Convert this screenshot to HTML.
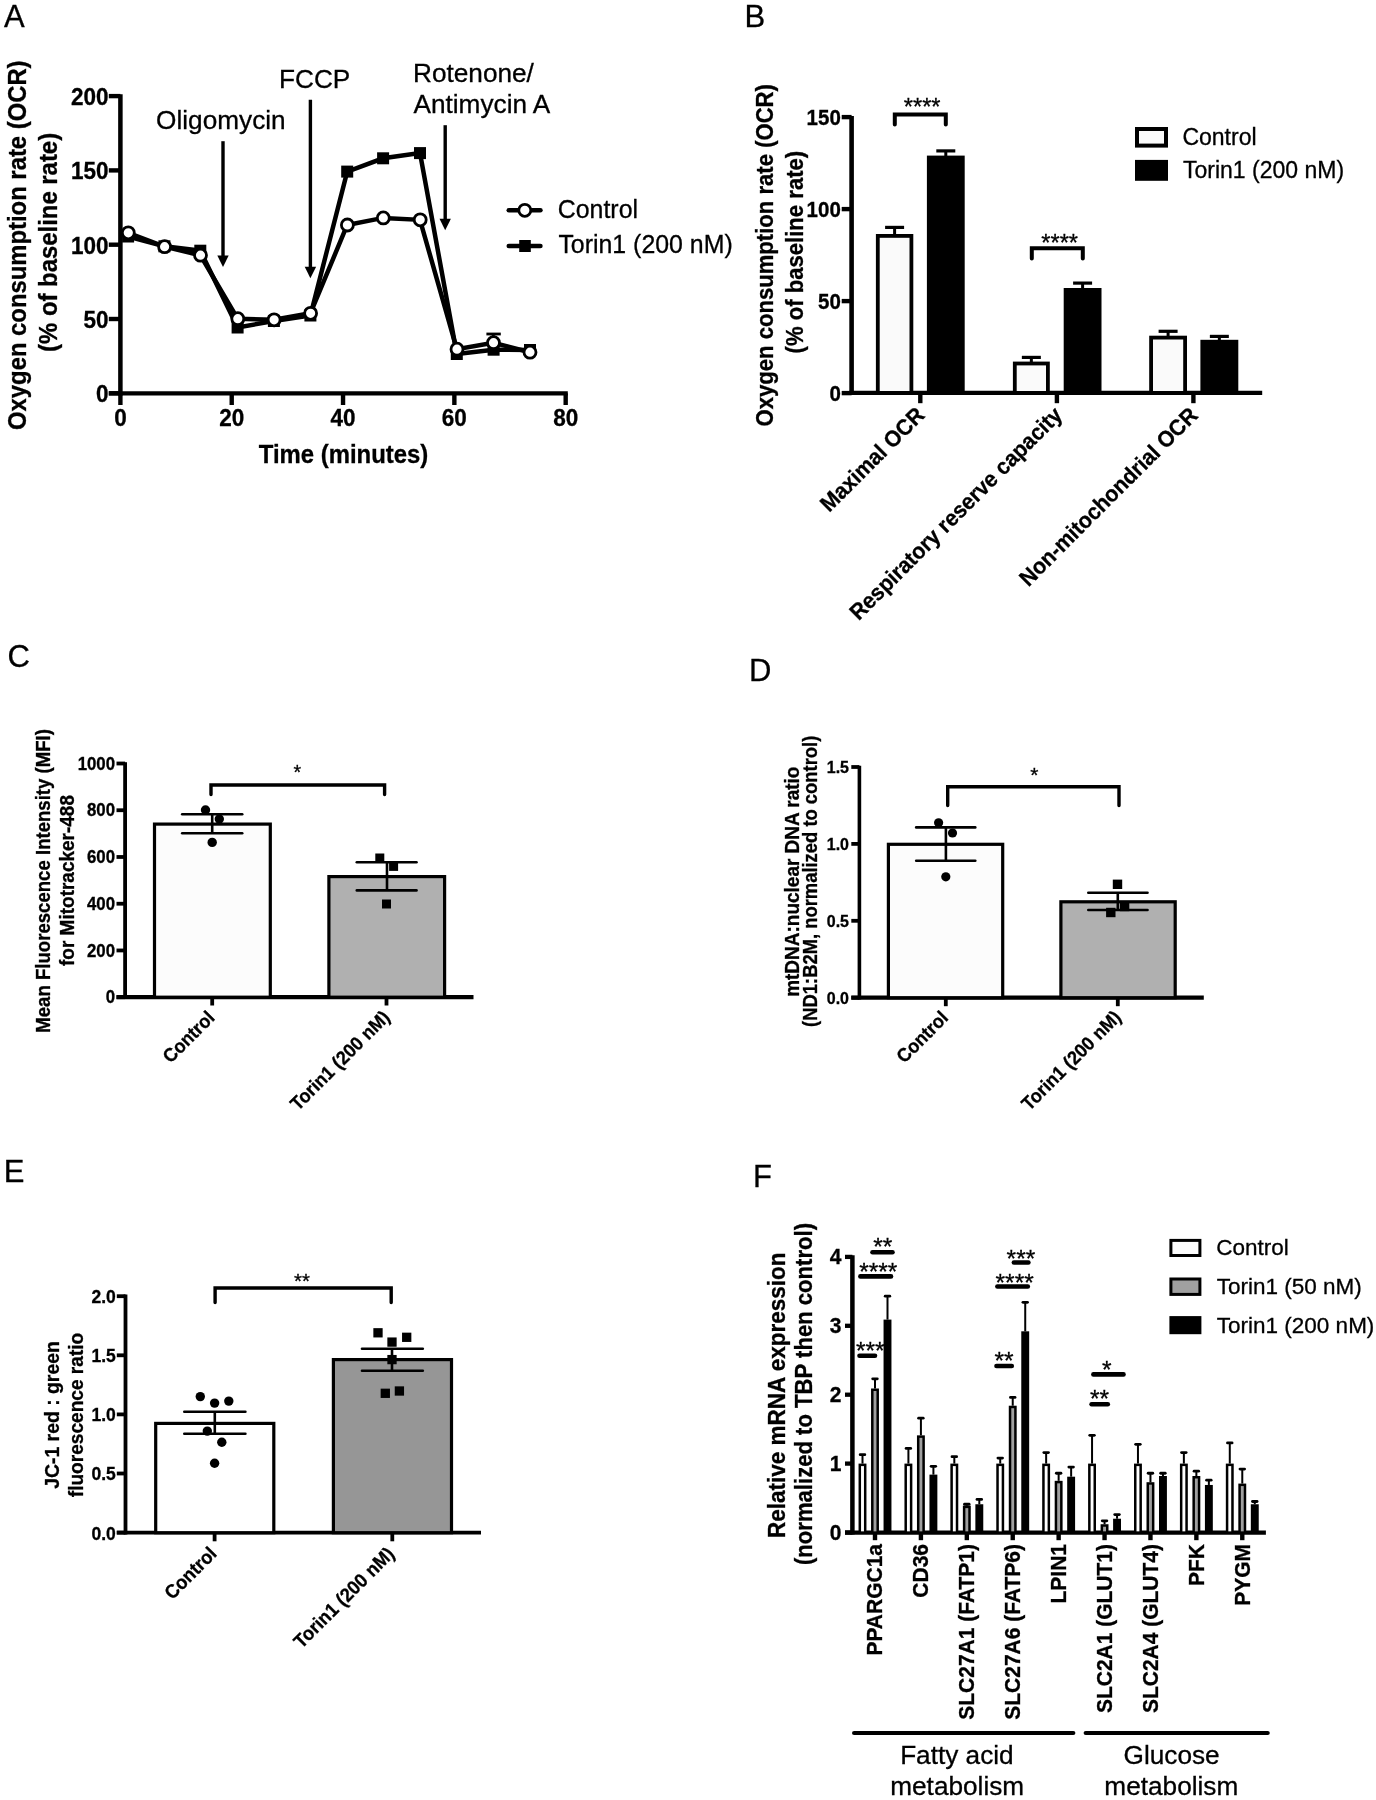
<!DOCTYPE html>
<html><head><meta charset="utf-8"><style>
html,body{margin:0;padding:0;background:#fff;}
svg{display:block;filter:grayscale(1);}
text{font-family:"Liberation Sans",sans-serif;fill:#000;stroke:#000;stroke-width:0.3px;}
</style></head><body>
<svg width="1376" height="1800" viewBox="0 0 1376 1800">
<rect width="1376" height="1800" fill="#fff"/>
<text x="4" y="27.3" font-size="31" text-anchor="start">A</text>
<text x="744.5" y="27.3" font-size="31" text-anchor="start">B</text>
<text x="7.5" y="666.6" font-size="31" text-anchor="start">C</text>
<text x="749" y="681" font-size="31" text-anchor="start">D</text>
<text x="3.8" y="1182.1" font-size="31" text-anchor="start">E</text>
<text x="753" y="1187" font-size="31" text-anchor="start">F</text>
<line x1="120.4" y1="94.2" x2="120.4" y2="395.5" stroke="#000" stroke-width="4.5" stroke-linecap="butt"/>
<line x1="108.8" y1="393.3" x2="120.4" y2="393.3" stroke="#000" stroke-width="4.4" stroke-linecap="butt"/>
<text x="0" y="0" font-size="22.5" font-weight="bold" text-anchor="end" transform="translate(108.6 402.1) scale(1 1.06)">0</text>
<line x1="108.8" y1="319.0" x2="120.4" y2="319.0" stroke="#000" stroke-width="4.4" stroke-linecap="butt"/>
<text x="0" y="0" font-size="22.5" font-weight="bold" text-anchor="end" transform="translate(108.6 327.8) scale(1 1.06)">50</text>
<line x1="108.8" y1="244.70000000000002" x2="120.4" y2="244.70000000000002" stroke="#000" stroke-width="4.4" stroke-linecap="butt"/>
<text x="0" y="0" font-size="22.5" font-weight="bold" text-anchor="end" transform="translate(108.6 253.50000000000003) scale(1 1.06)">100</text>
<line x1="108.8" y1="170.4" x2="120.4" y2="170.4" stroke="#000" stroke-width="4.4" stroke-linecap="butt"/>
<text x="0" y="0" font-size="22.5" font-weight="bold" text-anchor="end" transform="translate(108.6 179.20000000000002) scale(1 1.06)">150</text>
<line x1="108.8" y1="96.10000000000002" x2="120.4" y2="96.10000000000002" stroke="#000" stroke-width="4.4" stroke-linecap="butt"/>
<text x="0" y="0" font-size="22.5" font-weight="bold" text-anchor="end" transform="translate(108.6 104.90000000000002) scale(1 1.06)">200</text>
<line x1="108.8" y1="393.3" x2="567.8" y2="393.3" stroke="#000" stroke-width="4.3" stroke-linecap="butt"/>
<line x1="120.4" y1="393.3" x2="120.4" y2="405" stroke="#000" stroke-width="4.4" stroke-linecap="butt"/>
<text x="0" y="0" font-size="22.5" font-weight="bold" text-anchor="middle" transform="translate(120.4 426) scale(1 1.06)">0</text>
<line x1="231.72" y1="393.3" x2="231.72" y2="405" stroke="#000" stroke-width="4.4" stroke-linecap="butt"/>
<text x="0" y="0" font-size="22.5" font-weight="bold" text-anchor="middle" transform="translate(231.72 426) scale(1 1.06)">20</text>
<line x1="343.03999999999996" y1="393.3" x2="343.03999999999996" y2="405" stroke="#000" stroke-width="4.4" stroke-linecap="butt"/>
<text x="0" y="0" font-size="22.5" font-weight="bold" text-anchor="middle" transform="translate(343.03999999999996 426) scale(1 1.06)">40</text>
<line x1="454.36" y1="393.3" x2="454.36" y2="405" stroke="#000" stroke-width="4.4" stroke-linecap="butt"/>
<text x="0" y="0" font-size="22.5" font-weight="bold" text-anchor="middle" transform="translate(454.36 426) scale(1 1.06)">60</text>
<line x1="565.68" y1="393.3" x2="565.68" y2="405" stroke="#000" stroke-width="4.4" stroke-linecap="butt"/>
<text x="0" y="0" font-size="22.5" font-weight="bold" text-anchor="middle" transform="translate(565.68 426) scale(1 1.06)">80</text>
<text x="0" y="0" font-size="23.9" font-weight="bold" text-anchor="middle" transform="translate(343.5 463.1) scale(1 1.06)">Time (minutes)</text>
<text x="0" y="0" font-size="23.85" font-weight="bold" text-anchor="middle" transform="translate(25.8 245.2) rotate(-90) scale(1 1.06)">Oxygen consumption rate (OCR)</text>
<text x="0" y="0" font-size="23.9" font-weight="bold" text-anchor="middle" transform="translate(56.5 242.4) rotate(-90) scale(1 1.06)">(% of baseline rate)</text>
<text x="156.1" y="129" font-size="26.2" text-anchor="start">Oligomycin</text>
<text x="279" y="88.2" font-size="26.2" text-anchor="start">FCCP</text>
<text x="413" y="81.6" font-size="26.2" text-anchor="start">Rotenone/</text>
<text x="413.5" y="113.2" font-size="26.2" text-anchor="start">Antimycin A</text>
<line x1="223" y1="141.2" x2="223" y2="259" stroke="#000" stroke-width="3.4" stroke-linecap="butt"/>
<polygon points="217.30,255.40 228.70,255.40 223.00,267.00" fill="#000"/>
<line x1="310.4" y1="99.7" x2="310.4" y2="270.3" stroke="#000" stroke-width="3.4" stroke-linecap="butt"/>
<polygon points="304.70,266.70 316.10,266.70 310.40,278.30" fill="#000"/>
<line x1="445.2" y1="125.2" x2="445.2" y2="222.3" stroke="#000" stroke-width="3.4" stroke-linecap="butt"/>
<polygon points="439.50,218.70 450.90,218.70 445.20,230.30" fill="#000"/>
<line x1="493.3" y1="342.7" x2="493.3" y2="334" stroke="#000" stroke-width="2.8" stroke-linecap="butt"/>
<line x1="486.4" y1="334" x2="500.8" y2="334" stroke="#000" stroke-width="2.8" stroke-linecap="butt"/>
<line x1="530" y1="350" x2="530" y2="345.4" stroke="#000" stroke-width="2.8" stroke-linecap="butt"/>
<line x1="524" y1="345.4" x2="536" y2="345.4" stroke="#000" stroke-width="2.8" stroke-linecap="butt"/>
<polyline points="128.10,236.50 164.40,246.30 200.30,250.70 237.60,327.50 273.90,321.00 310.40,315.50 347.20,171.60 383.10,158.30 420.00,153.10 456.80,354.00 493.60,349.70 530.00,350.00" fill="none" stroke="#000" stroke-width="4.5" stroke-linejoin="miter"/>
<rect x="122.10" y="230.50" width="12.00" height="12.00" fill="#000"/>
<rect x="158.40" y="240.30" width="12.00" height="12.00" fill="#000"/>
<rect x="194.30" y="244.70" width="12.00" height="12.00" fill="#000"/>
<rect x="231.60" y="321.50" width="12.00" height="12.00" fill="#000"/>
<rect x="267.90" y="315.00" width="12.00" height="12.00" fill="#000"/>
<rect x="304.40" y="309.50" width="12.00" height="12.00" fill="#000"/>
<rect x="341.20" y="165.60" width="12.00" height="12.00" fill="#000"/>
<rect x="377.10" y="152.30" width="12.00" height="12.00" fill="#000"/>
<rect x="414.00" y="147.10" width="12.00" height="12.00" fill="#000"/>
<rect x="450.80" y="348.00" width="12.00" height="12.00" fill="#000"/>
<rect x="487.60" y="343.70" width="12.00" height="12.00" fill="#000"/>
<rect x="524.00" y="344.00" width="12.00" height="12.00" fill="#000"/>
<polyline points="128.10,232.80 164.40,246.70 200.30,255.20 237.60,318.70 273.90,319.80 310.40,313.30 347.20,225.00 383.10,217.90 420.00,219.80 456.80,349.20 493.30,342.70 529.80,352.20" fill="none" stroke="#000" stroke-width="4.5" stroke-linejoin="miter"/>
<circle cx="128.30" cy="232.80" r="6.0" fill="#fff" stroke="#000" stroke-width="2.8"/>
<circle cx="164.60" cy="246.70" r="6.0" fill="#fff" stroke="#000" stroke-width="2.8"/>
<circle cx="200.50" cy="255.20" r="6.0" fill="#fff" stroke="#000" stroke-width="2.8"/>
<circle cx="237.80" cy="318.70" r="6.0" fill="#fff" stroke="#000" stroke-width="2.8"/>
<circle cx="274.10" cy="319.80" r="6.0" fill="#fff" stroke="#000" stroke-width="2.8"/>
<circle cx="310.60" cy="313.30" r="6.0" fill="#fff" stroke="#000" stroke-width="2.8"/>
<circle cx="347.40" cy="225.00" r="6.0" fill="#fff" stroke="#000" stroke-width="2.8"/>
<circle cx="383.30" cy="217.90" r="6.0" fill="#fff" stroke="#000" stroke-width="2.8"/>
<circle cx="420.20" cy="219.80" r="6.0" fill="#fff" stroke="#000" stroke-width="2.8"/>
<circle cx="457.00" cy="349.20" r="6.0" fill="#fff" stroke="#000" stroke-width="2.8"/>
<circle cx="493.50" cy="342.70" r="6.0" fill="#fff" stroke="#000" stroke-width="2.8"/>
<circle cx="530.00" cy="352.20" r="6.0" fill="#fff" stroke="#000" stroke-width="2.8"/>
<line x1="508.8" y1="210.3" x2="540.4" y2="210.3" stroke="#000" stroke-width="4.6" stroke-linecap="round"/>
<circle cx="524.80" cy="210.30" r="6.0" fill="#fff" stroke="#000" stroke-width="2.8"/>
<line x1="508.8" y1="246" x2="540.4" y2="246" stroke="#000" stroke-width="4.6" stroke-linecap="round"/>
<rect x="519.20" y="240.00" width="11.60" height="12.00" fill="#000"/>
<text x="557.8" y="217.8" font-size="24.9" text-anchor="start">Control</text>
<text x="558.4" y="252.8" font-size="24.9" text-anchor="start">Torin1 (200 nM)</text>
<line x1="851.6" y1="115.9" x2="851.6" y2="395" stroke="#000" stroke-width="4.6" stroke-linecap="butt"/>
<line x1="841.7" y1="393.1" x2="851.6" y2="393.1" stroke="#000" stroke-width="4.4" stroke-linecap="butt"/>
<text x="0" y="0" font-size="20.5" font-weight="bold" text-anchor="end" transform="translate(840.8 400.70000000000005) scale(1 1.06)">0</text>
<line x1="841.7" y1="301.1" x2="851.6" y2="301.1" stroke="#000" stroke-width="4.4" stroke-linecap="butt"/>
<text x="0" y="0" font-size="20.5" font-weight="bold" text-anchor="end" transform="translate(840.8 308.70000000000005) scale(1 1.06)">50</text>
<line x1="841.7" y1="209.10000000000002" x2="851.6" y2="209.10000000000002" stroke="#000" stroke-width="4.4" stroke-linecap="butt"/>
<text x="0" y="0" font-size="20.5" font-weight="bold" text-anchor="end" transform="translate(840.8 216.70000000000002) scale(1 1.06)">100</text>
<line x1="841.7" y1="117.10000000000002" x2="851.6" y2="117.10000000000002" stroke="#000" stroke-width="4.4" stroke-linecap="butt"/>
<text x="0" y="0" font-size="20.5" font-weight="bold" text-anchor="end" transform="translate(840.8 124.70000000000002) scale(1 1.06)">150</text>
<line x1="849.3" y1="392.9" x2="1262.2" y2="392.9" stroke="#000" stroke-width="4.4" stroke-linecap="butt"/>
<line x1="920.3" y1="392.9" x2="920.3" y2="403.2" stroke="#000" stroke-width="4.4" stroke-linecap="butt"/>
<line x1="1056.9" y1="392.9" x2="1056.9" y2="403.2" stroke="#000" stroke-width="4.4" stroke-linecap="butt"/>
<line x1="1193.4" y1="392.9" x2="1193.4" y2="403.2" stroke="#000" stroke-width="4.4" stroke-linecap="butt"/>
<text x="0" y="0" font-size="22.1" font-weight="bold" text-anchor="middle" transform="translate(772.9 255.3) rotate(-90) scale(1 1.06)">Oxygen consumption rate (OCR)</text>
<text x="0" y="0" font-size="22.1" font-weight="bold" text-anchor="middle" transform="translate(802.5 252.1) rotate(-90) scale(1 1.06)">(% of baseline rate)</text>
<line x1="894.5999999999999" y1="235" x2="894.5999999999999" y2="227.4" stroke="#000" stroke-width="3" stroke-linecap="butt"/>
<line x1="885.0999999999999" y1="227.4" x2="904.0999999999999" y2="227.4" stroke="#000" stroke-width="3.2" stroke-linecap="butt"/>
<rect x="877.80" y="235.90" width="33.60" height="157.00" fill="#fafafa" stroke="#000" stroke-width="3.8"/>
<line x1="945.8" y1="156.6" x2="945.8" y2="150.9" stroke="#000" stroke-width="3" stroke-linecap="butt"/>
<line x1="936.3" y1="150.9" x2="955.3" y2="150.9" stroke="#000" stroke-width="3.2" stroke-linecap="butt"/>
<rect x="926.90" y="155.60" width="37.80" height="237.30" fill="#000"/>
<line x1="1031.35" y1="362.6" x2="1031.35" y2="357.4" stroke="#000" stroke-width="3" stroke-linecap="butt"/>
<line x1="1021.8499999999999" y1="357.4" x2="1040.85" y2="357.4" stroke="#000" stroke-width="3.2" stroke-linecap="butt"/>
<rect x="1014.80" y="363.50" width="33.10" height="29.40" fill="#fafafa" stroke="#000" stroke-width="3.8"/>
<line x1="1082.6" y1="289" x2="1082.6" y2="283.1" stroke="#000" stroke-width="3" stroke-linecap="butt"/>
<line x1="1073.1" y1="283.1" x2="1092.1" y2="283.1" stroke="#000" stroke-width="3.2" stroke-linecap="butt"/>
<rect x="1063.70" y="288.00" width="37.80" height="104.90" fill="#000"/>
<line x1="1168.1" y1="336.7" x2="1168.1" y2="331.3" stroke="#000" stroke-width="3" stroke-linecap="butt"/>
<line x1="1158.6" y1="331.3" x2="1177.6" y2="331.3" stroke="#000" stroke-width="3.2" stroke-linecap="butt"/>
<rect x="1151.10" y="337.60" width="34.00" height="55.30" fill="#fafafa" stroke="#000" stroke-width="3.8"/>
<line x1="1219.35" y1="340.8" x2="1219.35" y2="336.4" stroke="#000" stroke-width="3" stroke-linecap="butt"/>
<line x1="1209.85" y1="336.4" x2="1228.85" y2="336.4" stroke="#000" stroke-width="3.2" stroke-linecap="butt"/>
<rect x="1200.40" y="339.80" width="37.90" height="53.10" fill="#000"/>
<polyline points="894.8,124.5 894.8,114.6 945.8,114.6 945.8,124.5" fill="none" stroke="#000" stroke-width="4" stroke-linecap="round" stroke-linejoin="miter"/>
<polyline points="1031.8,258.6 1031.8,248.2 1082.8,248.2 1082.8,258.6" fill="none" stroke="#000" stroke-width="4" stroke-linecap="round" stroke-linejoin="miter"/>
<text x="922.2" y="115.4" font-size="23.6" text-anchor="middle">****</text>
<text x="1059.7" y="250.5" font-size="23.6" text-anchor="middle">****</text>
<rect x="1137.00" y="129.00" width="29.00" height="16.60" fill="#fbfbfb" stroke="#000" stroke-width="4"/>
<rect x="1135.00" y="159.90" width="33.00" height="20.90" fill="#000"/>
<text x="1182.4" y="144.7" font-size="23" text-anchor="start">Control</text>
<text x="1183" y="177.7" font-size="23" text-anchor="start">Torin1 (200 nM)</text>
<text x="0" y="0" font-size="21.2" font-weight="bold" text-anchor="end" transform="translate(925.8 416.5) rotate(-45) scale(1 1.06)">Maximal OCR</text>
<text x="0" y="0" font-size="21.2" font-weight="bold" text-anchor="end" transform="translate(1063.5 416.5) rotate(-45) scale(1 1.06)">Respiratory reserve capacity</text>
<text x="0" y="0" font-size="21.2" font-weight="bold" text-anchor="end" transform="translate(1199 416.8) rotate(-45) scale(1 1.06)">Non-mitochondrial OCR</text>
<line x1="125.1" y1="762.2" x2="125.1" y2="999" stroke="#000" stroke-width="3.8" stroke-linecap="butt"/>
<line x1="116.5" y1="997.2" x2="125.1" y2="997.2" stroke="#000" stroke-width="3.8" stroke-linecap="butt"/>
<text x="0" y="0" font-size="16.8" font-weight="bold" text-anchor="end" transform="translate(115 1003.4000000000001) scale(1 1.06)">0</text>
<line x1="116.5" y1="950.46" x2="125.1" y2="950.46" stroke="#000" stroke-width="3.8" stroke-linecap="butt"/>
<text x="0" y="0" font-size="16.8" font-weight="bold" text-anchor="end" transform="translate(115 956.6600000000001) scale(1 1.06)">200</text>
<line x1="116.5" y1="903.72" x2="125.1" y2="903.72" stroke="#000" stroke-width="3.8" stroke-linecap="butt"/>
<text x="0" y="0" font-size="16.8" font-weight="bold" text-anchor="end" transform="translate(115 909.9200000000001) scale(1 1.06)">400</text>
<line x1="116.5" y1="856.98" x2="125.1" y2="856.98" stroke="#000" stroke-width="3.8" stroke-linecap="butt"/>
<text x="0" y="0" font-size="16.8" font-weight="bold" text-anchor="end" transform="translate(115 863.1800000000001) scale(1 1.06)">600</text>
<line x1="116.5" y1="810.24" x2="125.1" y2="810.24" stroke="#000" stroke-width="3.8" stroke-linecap="butt"/>
<text x="0" y="0" font-size="16.8" font-weight="bold" text-anchor="end" transform="translate(115 816.44) scale(1 1.06)">800</text>
<line x1="116.5" y1="763.5" x2="125.1" y2="763.5" stroke="#000" stroke-width="3.8" stroke-linecap="butt"/>
<text x="0" y="0" font-size="16.8" font-weight="bold" text-anchor="end" transform="translate(115 769.7) scale(1 1.06)">1000</text>
<line x1="116.5" y1="997.2" x2="473.5" y2="997.2" stroke="#000" stroke-width="4.2" stroke-linecap="butt"/>
<line x1="212.2" y1="997.2" x2="212.2" y2="1005.5" stroke="#000" stroke-width="3.8" stroke-linecap="butt"/>
<line x1="386.5" y1="997.2" x2="386.5" y2="1005.5" stroke="#000" stroke-width="3.8" stroke-linecap="butt"/>
<rect x="154.50" y="824.10" width="115.80" height="173.10" fill="#fcfcfc" stroke="#000" stroke-width="3.2"/>
<rect x="328.90" y="876.60" width="115.70" height="120.60" fill="#b0b0b0" stroke="#000" stroke-width="3.2"/>
<line x1="212.2" y1="814.2" x2="212.2" y2="833.3" stroke="#000" stroke-width="2.6" stroke-linecap="butt"/>
<line x1="182.2" y1="814.2" x2="242.2" y2="814.2" stroke="#000" stroke-width="2.6" stroke-linecap="round"/>
<line x1="182.2" y1="833.3" x2="242.2" y2="833.3" stroke="#000" stroke-width="2.6" stroke-linecap="round"/>
<line x1="387" y1="862.2" x2="387" y2="890.4" stroke="#000" stroke-width="2.6" stroke-linecap="butt"/>
<line x1="356.8" y1="862.2" x2="416.5" y2="862.2" stroke="#000" stroke-width="2.6" stroke-linecap="round"/>
<line x1="356.8" y1="890.4" x2="416.5" y2="890.4" stroke="#000" stroke-width="2.6" stroke-linecap="round"/>
<circle cx="205.50" cy="810.00" r="4.7" fill="#000"/>
<circle cx="219.30" cy="819.00" r="4.7" fill="#000"/>
<circle cx="212.20" cy="842.40" r="4.7" fill="#000"/>
<rect x="375.30" y="853.50" width="9.00" height="9.00" fill="#000"/>
<rect x="389.10" y="861.90" width="9.00" height="9.00" fill="#000"/>
<rect x="382.00" y="899.50" width="9.00" height="9.00" fill="#000"/>
<polyline points="211,794.5 211,785 384.6,785 384.6,794.5" fill="none" stroke="#000" stroke-width="3.4" stroke-linecap="round" stroke-linejoin="miter"/>
<text x="297.3" y="779" font-size="19.5" text-anchor="middle">*</text>
<text x="0" y="0" font-size="18.6" font-weight="bold" text-anchor="middle" transform="translate(50.2 880.9) rotate(-90) scale(1 1.06)">Mean Fluorescence Intensity (MFI)</text>
<text x="0" y="0" font-size="19" font-weight="bold" text-anchor="middle" transform="translate(74.2 880.5) rotate(-90) scale(1 1.06)">for Mitotracker-488</text>
<text x="0" y="0" font-size="18" font-weight="bold" text-anchor="end" transform="translate(215.8 1018.9) rotate(-45) scale(1 1.06)">Control</text>
<text x="0" y="0" font-size="18" font-weight="bold" text-anchor="end" transform="translate(391 1018.5) rotate(-45) scale(1 1.06)">Torin1 (200 nM)</text>
<line x1="859.4" y1="765.8" x2="859.4" y2="999.5" stroke="#000" stroke-width="3.6" stroke-linecap="butt"/>
<line x1="851.3" y1="997.7" x2="859.4" y2="997.7" stroke="#000" stroke-width="3.8" stroke-linecap="butt"/>
<text x="0" y="0" font-size="16" font-weight="bold" text-anchor="end" transform="translate(849 1003.7) scale(1 1.06)">0.0</text>
<line x1="851.3" y1="920.8000000000001" x2="859.4" y2="920.8000000000001" stroke="#000" stroke-width="3.8" stroke-linecap="butt"/>
<text x="0" y="0" font-size="16" font-weight="bold" text-anchor="end" transform="translate(849 926.8000000000001) scale(1 1.06)">0.5</text>
<line x1="851.3" y1="843.9000000000001" x2="859.4" y2="843.9000000000001" stroke="#000" stroke-width="3.8" stroke-linecap="butt"/>
<text x="0" y="0" font-size="16" font-weight="bold" text-anchor="end" transform="translate(849 849.9000000000001) scale(1 1.06)">1.0</text>
<line x1="851.3" y1="767.0" x2="859.4" y2="767.0" stroke="#000" stroke-width="3.8" stroke-linecap="butt"/>
<text x="0" y="0" font-size="16" font-weight="bold" text-anchor="end" transform="translate(849 773.0) scale(1 1.06)">1.5</text>
<line x1="851.3" y1="997.7" x2="1203.8" y2="997.7" stroke="#000" stroke-width="4.2" stroke-linecap="butt"/>
<line x1="945.8" y1="997.7" x2="945.8" y2="1006.2" stroke="#000" stroke-width="3.8" stroke-linecap="butt"/>
<line x1="1117.8" y1="997.7" x2="1117.8" y2="1006.2" stroke="#000" stroke-width="3.8" stroke-linecap="butt"/>
<rect x="888.40" y="844.30" width="114.30" height="153.40" fill="#fcfcfc" stroke="#000" stroke-width="3.2"/>
<rect x="1060.90" y="901.80" width="114.30" height="95.90" fill="#b0b0b0" stroke="#000" stroke-width="3.2"/>
<line x1="945.9" y1="827.4" x2="945.9" y2="860.7" stroke="#000" stroke-width="2.6" stroke-linecap="butt"/>
<line x1="916.2" y1="827.4" x2="975.3" y2="827.4" stroke="#000" stroke-width="2.6" stroke-linecap="round"/>
<line x1="916.2" y1="860.7" x2="975.3" y2="860.7" stroke="#000" stroke-width="2.6" stroke-linecap="round"/>
<line x1="1117.8" y1="892.7" x2="1117.8" y2="910" stroke="#000" stroke-width="2.6" stroke-linecap="butt"/>
<line x1="1088.3" y1="892.7" x2="1147.5" y2="892.7" stroke="#000" stroke-width="2.6" stroke-linecap="round"/>
<line x1="1088.3" y1="910" x2="1147.5" y2="910" stroke="#000" stroke-width="2.6" stroke-linecap="round"/>
<circle cx="938.60" cy="822.80" r="4.6" fill="#000"/>
<circle cx="952.50" cy="833.00" r="4.6" fill="#000"/>
<circle cx="945.80" cy="876.80" r="4.6" fill="#000"/>
<rect x="1112.80" y="879.60" width="9.40" height="9.40" fill="#000"/>
<rect x="1119.90" y="901.80" width="9.40" height="9.40" fill="#000"/>
<rect x="1106.10" y="907.80" width="9.40" height="9.40" fill="#000"/>
<polyline points="947.7,805.5 947.7,786.7 1119,786.7 1119,805.5" fill="none" stroke="#000" stroke-width="3.4" stroke-linecap="round" stroke-linejoin="miter"/>
<text x="1034.3" y="782.4" font-size="21" text-anchor="middle">*</text>
<text x="0" y="0" font-size="19" font-weight="bold" text-anchor="middle" transform="translate(798.9 881.7) rotate(-90) scale(1 1.06)">mtDNA:nuclear DNA ratio</text>
<text x="0" y="0" font-size="18.4" font-weight="bold" text-anchor="middle" transform="translate(817.2 881.3) rotate(-90) scale(1 1.06)">(ND1:B2M, normalized to control)</text>
<text x="0" y="0" font-size="18" font-weight="bold" text-anchor="end" transform="translate(949.4 1018.9) rotate(-45) scale(1 1.06)">Control</text>
<text x="0" y="0" font-size="18" font-weight="bold" text-anchor="end" transform="translate(1122.3 1018.5) rotate(-45) scale(1 1.06)">Torin1 (200 nM)</text>
<line x1="125.5" y1="1294.5" x2="125.5" y2="1534.5" stroke="#000" stroke-width="3.8" stroke-linecap="butt"/>
<line x1="116.8" y1="1532.6" x2="125.5" y2="1532.6" stroke="#000" stroke-width="3.8" stroke-linecap="butt"/>
<text x="0" y="0" font-size="17.5" font-weight="bold" text-anchor="end" transform="translate(115.8 1539.5) scale(1 1.06)">0.0</text>
<line x1="116.8" y1="1473.5" x2="125.5" y2="1473.5" stroke="#000" stroke-width="3.8" stroke-linecap="butt"/>
<text x="0" y="0" font-size="17.5" font-weight="bold" text-anchor="end" transform="translate(115.8 1480.4) scale(1 1.06)">0.5</text>
<line x1="116.8" y1="1414.3999999999999" x2="125.5" y2="1414.3999999999999" stroke="#000" stroke-width="3.8" stroke-linecap="butt"/>
<text x="0" y="0" font-size="17.5" font-weight="bold" text-anchor="end" transform="translate(115.8 1421.3) scale(1 1.06)">1.0</text>
<line x1="116.8" y1="1355.3" x2="125.5" y2="1355.3" stroke="#000" stroke-width="3.8" stroke-linecap="butt"/>
<text x="0" y="0" font-size="17.5" font-weight="bold" text-anchor="end" transform="translate(115.8 1362.2) scale(1 1.06)">1.5</text>
<line x1="116.8" y1="1296.1999999999998" x2="125.5" y2="1296.1999999999998" stroke="#000" stroke-width="3.8" stroke-linecap="butt"/>
<text x="0" y="0" font-size="17.5" font-weight="bold" text-anchor="end" transform="translate(115.8 1303.1) scale(1 1.06)">2.0</text>
<line x1="116.8" y1="1532.7" x2="481" y2="1532.7" stroke="#000" stroke-width="3.8" stroke-linecap="butt"/>
<line x1="214.6" y1="1532.7" x2="214.6" y2="1541.3" stroke="#000" stroke-width="3.8" stroke-linecap="butt"/>
<line x1="392.3" y1="1532.7" x2="392.3" y2="1541.3" stroke="#000" stroke-width="3.8" stroke-linecap="butt"/>
<rect x="155.70" y="1423.40" width="118.10" height="109.30" fill="#ffffff" stroke="#000" stroke-width="3.2"/>
<rect x="333.40" y="1359.60" width="118.10" height="173.10" fill="#969696" stroke="#000" stroke-width="3.2"/>
<line x1="214.8" y1="1411.7" x2="214.8" y2="1433.8" stroke="#000" stroke-width="2.6" stroke-linecap="butt"/>
<line x1="184.3" y1="1411.7" x2="245.4" y2="1411.7" stroke="#000" stroke-width="2.6" stroke-linecap="round"/>
<line x1="184.3" y1="1433.8" x2="245.4" y2="1433.8" stroke="#000" stroke-width="2.6" stroke-linecap="round"/>
<line x1="392" y1="1348.7" x2="392" y2="1370.8" stroke="#000" stroke-width="2.6" stroke-linecap="butt"/>
<line x1="362" y1="1348.7" x2="422.8" y2="1348.7" stroke="#000" stroke-width="2.6" stroke-linecap="round"/>
<line x1="362" y1="1370.8" x2="422.8" y2="1370.8" stroke="#000" stroke-width="2.6" stroke-linecap="round"/>
<circle cx="200.30" cy="1396.60" r="4.7" fill="#000"/>
<circle cx="214.60" cy="1403.10" r="4.7" fill="#000"/>
<circle cx="228.80" cy="1401.10" r="4.7" fill="#000"/>
<circle cx="207.30" cy="1431.10" r="4.7" fill="#000"/>
<circle cx="221.80" cy="1442.30" r="4.7" fill="#000"/>
<circle cx="214.60" cy="1463.30" r="4.7" fill="#000"/>
<rect x="373.35" y="1328.15" width="9.30" height="9.30" fill="#000"/>
<rect x="387.35" y="1337.45" width="9.30" height="9.30" fill="#000"/>
<rect x="402.05" y="1332.65" width="9.30" height="9.30" fill="#000"/>
<rect x="387.35" y="1354.95" width="9.30" height="9.30" fill="#000"/>
<rect x="380.65" y="1388.65" width="9.30" height="9.30" fill="#000"/>
<rect x="394.75" y="1386.35" width="9.30" height="9.30" fill="#000"/>
<polyline points="215.1,1302.5 215.1,1288 391.2,1288 391.2,1302.5" fill="none" stroke="#000" stroke-width="3.4" stroke-linecap="round" stroke-linejoin="miter"/>
<text x="301.9" y="1287.5" font-size="20.4" text-anchor="middle">**</text>
<text x="0" y="0" font-size="19.4" font-weight="bold" text-anchor="middle" transform="translate(58.8 1415) rotate(-90) scale(1 1.06)">JC-1 red : green</text>
<text x="0" y="0" font-size="19.1" font-weight="bold" text-anchor="middle" transform="translate(83.2 1415) rotate(-90) scale(1 1.06)">fluorescence ratio</text>
<text x="0" y="0" font-size="18.2" font-weight="bold" text-anchor="end" transform="translate(217.9 1554.8) rotate(-45) scale(1 1.06)">Control</text>
<text x="0" y="0" font-size="18.2" font-weight="bold" text-anchor="end" transform="translate(395.6 1555.1) rotate(-45) scale(1 1.06)">Torin1 (200 nM)</text>
<line x1="852.4" y1="1255.3" x2="852.4" y2="1534.5" stroke="#000" stroke-width="4.5" stroke-linecap="butt"/>
<line x1="845" y1="1532.5" x2="852.4" y2="1532.5" stroke="#000" stroke-width="4.3" stroke-linecap="butt"/>
<text x="0" y="0" font-size="21" font-weight="bold" text-anchor="end" transform="translate(841.5 1539.6) scale(1 1.06)">0</text>
<line x1="845" y1="1463.6" x2="852.4" y2="1463.6" stroke="#000" stroke-width="4.3" stroke-linecap="butt"/>
<text x="0" y="0" font-size="21" font-weight="bold" text-anchor="end" transform="translate(841.5 1470.6999999999998) scale(1 1.06)">1</text>
<line x1="845" y1="1394.7" x2="852.4" y2="1394.7" stroke="#000" stroke-width="4.3" stroke-linecap="butt"/>
<text x="0" y="0" font-size="21" font-weight="bold" text-anchor="end" transform="translate(841.5 1401.8) scale(1 1.06)">2</text>
<line x1="845" y1="1325.8" x2="852.4" y2="1325.8" stroke="#000" stroke-width="4.3" stroke-linecap="butt"/>
<text x="0" y="0" font-size="21" font-weight="bold" text-anchor="end" transform="translate(841.5 1332.8999999999999) scale(1 1.06)">3</text>
<line x1="845" y1="1256.9" x2="852.4" y2="1256.9" stroke="#000" stroke-width="4.3" stroke-linecap="butt"/>
<text x="0" y="0" font-size="21" font-weight="bold" text-anchor="end" transform="translate(841.5 1264.0) scale(1 1.06)">4</text>
<line x1="845" y1="1532.6" x2="1265.9" y2="1532.6" stroke="#000" stroke-width="4.2" stroke-linecap="butt"/>
<line x1="875.0" y1="1532.6" x2="875.0" y2="1540.2" stroke="#000" stroke-width="4.4" stroke-linecap="butt"/>
<line x1="920.91" y1="1532.6" x2="920.91" y2="1540.2" stroke="#000" stroke-width="4.4" stroke-linecap="butt"/>
<line x1="966.8199999999999" y1="1532.6" x2="966.8199999999999" y2="1540.2" stroke="#000" stroke-width="4.4" stroke-linecap="butt"/>
<line x1="1012.73" y1="1532.6" x2="1012.73" y2="1540.2" stroke="#000" stroke-width="4.4" stroke-linecap="butt"/>
<line x1="1058.6399999999999" y1="1532.6" x2="1058.6399999999999" y2="1540.2" stroke="#000" stroke-width="4.4" stroke-linecap="butt"/>
<line x1="1104.55" y1="1532.6" x2="1104.55" y2="1540.2" stroke="#000" stroke-width="4.4" stroke-linecap="butt"/>
<line x1="1150.46" y1="1532.6" x2="1150.46" y2="1540.2" stroke="#000" stroke-width="4.4" stroke-linecap="butt"/>
<line x1="1196.37" y1="1532.6" x2="1196.37" y2="1540.2" stroke="#000" stroke-width="4.4" stroke-linecap="butt"/>
<line x1="1242.28" y1="1532.6" x2="1242.28" y2="1540.2" stroke="#000" stroke-width="4.4" stroke-linecap="butt"/>
<line x1="862.5" y1="1463.6" x2="862.5" y2="1454.643" stroke="#000" stroke-width="2.0" stroke-linecap="butt"/>
<line x1="860.2" y1="1454.643" x2="864.8" y2="1454.643" stroke="#000" stroke-width="2.8" stroke-linecap="round"/>
<rect x="859.80" y="1464.85" width="5.40" height="67.75" fill="#ffffff" stroke="#000" stroke-width="2.5"/>
<line x1="875.0" y1="1388.499" x2="875.0" y2="1378.853" stroke="#000" stroke-width="2.0" stroke-linecap="butt"/>
<line x1="872.7" y1="1378.853" x2="877.3" y2="1378.853" stroke="#000" stroke-width="2.8" stroke-linecap="round"/>
<rect x="872.30" y="1389.75" width="5.40" height="142.85" fill="#a0a0a0" stroke="#000" stroke-width="2.5"/>
<line x1="887.5" y1="1319.599" x2="887.5" y2="1296.173" stroke="#000" stroke-width="2.0" stroke-linecap="butt"/>
<line x1="885.2" y1="1296.173" x2="889.8" y2="1296.173" stroke="#000" stroke-width="2.8" stroke-linecap="round"/>
<rect x="883.55" y="1319.60" width="7.90" height="213.00" fill="#000"/>
<line x1="908.41" y1="1463.6" x2="908.41" y2="1448.442" stroke="#000" stroke-width="2.0" stroke-linecap="butt"/>
<line x1="906.11" y1="1448.442" x2="910.7099999999999" y2="1448.442" stroke="#000" stroke-width="2.8" stroke-linecap="round"/>
<rect x="905.71" y="1464.85" width="5.40" height="67.75" fill="#ffffff" stroke="#000" stroke-width="2.5"/>
<line x1="920.91" y1="1435.351" x2="920.91" y2="1418.126" stroke="#000" stroke-width="2.0" stroke-linecap="butt"/>
<line x1="918.61" y1="1418.126" x2="923.2099999999999" y2="1418.126" stroke="#000" stroke-width="2.8" stroke-linecap="round"/>
<rect x="918.21" y="1436.60" width="5.40" height="96.00" fill="#a0a0a0" stroke="#000" stroke-width="2.5"/>
<line x1="933.41" y1="1474.624" x2="933.41" y2="1466.356" stroke="#000" stroke-width="2.0" stroke-linecap="butt"/>
<line x1="931.11" y1="1466.356" x2="935.7099999999999" y2="1466.356" stroke="#000" stroke-width="2.8" stroke-linecap="round"/>
<rect x="929.46" y="1474.62" width="7.90" height="57.98" fill="#000"/>
<line x1="954.3199999999999" y1="1463.6" x2="954.3199999999999" y2="1456.71" stroke="#000" stroke-width="2.0" stroke-linecap="butt"/>
<line x1="952.02" y1="1456.71" x2="956.6199999999999" y2="1456.71" stroke="#000" stroke-width="2.8" stroke-linecap="round"/>
<rect x="951.62" y="1464.85" width="5.40" height="67.75" fill="#ffffff" stroke="#000" stroke-width="2.5"/>
<line x1="966.8199999999999" y1="1505.629" x2="966.8199999999999" y2="1504.251" stroke="#000" stroke-width="2.0" stroke-linecap="butt"/>
<line x1="964.52" y1="1504.251" x2="969.1199999999999" y2="1504.251" stroke="#000" stroke-width="2.8" stroke-linecap="round"/>
<rect x="964.12" y="1506.88" width="5.40" height="25.72" fill="#a0a0a0" stroke="#000" stroke-width="2.5"/>
<line x1="979.3199999999999" y1="1504.251" x2="979.3199999999999" y2="1499.4279999999999" stroke="#000" stroke-width="2.0" stroke-linecap="butt"/>
<line x1="977.02" y1="1499.4279999999999" x2="981.6199999999999" y2="1499.4279999999999" stroke="#000" stroke-width="2.8" stroke-linecap="round"/>
<rect x="975.37" y="1504.25" width="7.90" height="28.35" fill="#000"/>
<line x1="1000.23" y1="1463.6" x2="1000.23" y2="1458.088" stroke="#000" stroke-width="2.0" stroke-linecap="butt"/>
<line x1="997.9300000000001" y1="1458.088" x2="1002.53" y2="1458.088" stroke="#000" stroke-width="2.8" stroke-linecap="round"/>
<rect x="997.53" y="1464.85" width="5.40" height="67.75" fill="#ffffff" stroke="#000" stroke-width="2.5"/>
<line x1="1012.73" y1="1405.724" x2="1012.73" y2="1397.456" stroke="#000" stroke-width="2.0" stroke-linecap="butt"/>
<line x1="1010.4300000000001" y1="1397.456" x2="1015.03" y2="1397.456" stroke="#000" stroke-width="2.8" stroke-linecap="round"/>
<rect x="1010.03" y="1406.97" width="5.40" height="125.63" fill="#a0a0a0" stroke="#000" stroke-width="2.5"/>
<line x1="1025.23" y1="1331.312" x2="1025.23" y2="1302.374" stroke="#000" stroke-width="2.0" stroke-linecap="butt"/>
<line x1="1022.9300000000001" y1="1302.374" x2="1027.53" y2="1302.374" stroke="#000" stroke-width="2.8" stroke-linecap="round"/>
<rect x="1021.28" y="1331.31" width="7.90" height="201.29" fill="#000"/>
<line x1="1046.1399999999999" y1="1463.6" x2="1046.1399999999999" y2="1452.576" stroke="#000" stroke-width="2.0" stroke-linecap="butt"/>
<line x1="1043.84" y1="1452.576" x2="1048.4399999999998" y2="1452.576" stroke="#000" stroke-width="2.8" stroke-linecap="round"/>
<rect x="1043.44" y="1464.85" width="5.40" height="67.75" fill="#ffffff" stroke="#000" stroke-width="2.5"/>
<line x1="1058.6399999999999" y1="1480.825" x2="1058.6399999999999" y2="1473.246" stroke="#000" stroke-width="2.0" stroke-linecap="butt"/>
<line x1="1056.34" y1="1473.246" x2="1060.9399999999998" y2="1473.246" stroke="#000" stroke-width="2.8" stroke-linecap="round"/>
<rect x="1055.94" y="1482.08" width="5.40" height="50.52" fill="#a0a0a0" stroke="#000" stroke-width="2.5"/>
<line x1="1071.1399999999999" y1="1476.691" x2="1071.1399999999999" y2="1467.045" stroke="#000" stroke-width="2.0" stroke-linecap="butt"/>
<line x1="1068.84" y1="1467.045" x2="1073.4399999999998" y2="1467.045" stroke="#000" stroke-width="2.8" stroke-linecap="round"/>
<rect x="1067.19" y="1476.69" width="7.90" height="55.91" fill="#000"/>
<line x1="1092.05" y1="1463.6" x2="1092.05" y2="1435.351" stroke="#000" stroke-width="2.0" stroke-linecap="butt"/>
<line x1="1089.75" y1="1435.351" x2="1094.35" y2="1435.351" stroke="#000" stroke-width="2.8" stroke-linecap="round"/>
<rect x="1089.35" y="1464.85" width="5.40" height="67.75" fill="#ffffff" stroke="#000" stroke-width="2.5"/>
<line x1="1104.55" y1="1524.232" x2="1104.55" y2="1520.787" stroke="#000" stroke-width="2.0" stroke-linecap="butt"/>
<line x1="1102.25" y1="1520.787" x2="1106.85" y2="1520.787" stroke="#000" stroke-width="2.8" stroke-linecap="round"/>
<rect x="1101.85" y="1525.48" width="5.40" height="7.12" fill="#a0a0a0" stroke="#000" stroke-width="2.5"/>
<line x1="1117.05" y1="1518.72" x2="1117.05" y2="1514.586" stroke="#000" stroke-width="2.0" stroke-linecap="butt"/>
<line x1="1114.75" y1="1514.586" x2="1119.35" y2="1514.586" stroke="#000" stroke-width="2.8" stroke-linecap="round"/>
<rect x="1113.10" y="1518.72" width="7.90" height="13.88" fill="#000"/>
<line x1="1137.96" y1="1463.6" x2="1137.96" y2="1444.308" stroke="#000" stroke-width="2.0" stroke-linecap="butt"/>
<line x1="1135.66" y1="1444.308" x2="1140.26" y2="1444.308" stroke="#000" stroke-width="2.8" stroke-linecap="round"/>
<rect x="1135.26" y="1464.85" width="5.40" height="67.75" fill="#ffffff" stroke="#000" stroke-width="2.5"/>
<line x1="1150.46" y1="1482.203" x2="1150.46" y2="1473.246" stroke="#000" stroke-width="2.0" stroke-linecap="butt"/>
<line x1="1148.16" y1="1473.246" x2="1152.76" y2="1473.246" stroke="#000" stroke-width="2.8" stroke-linecap="round"/>
<rect x="1147.76" y="1483.45" width="5.40" height="49.15" fill="#a0a0a0" stroke="#000" stroke-width="2.5"/>
<line x1="1162.96" y1="1476.002" x2="1162.96" y2="1473.246" stroke="#000" stroke-width="2.0" stroke-linecap="butt"/>
<line x1="1160.66" y1="1473.246" x2="1165.26" y2="1473.246" stroke="#000" stroke-width="2.8" stroke-linecap="round"/>
<rect x="1159.01" y="1476.00" width="7.90" height="56.60" fill="#000"/>
<line x1="1183.87" y1="1463.6" x2="1183.87" y2="1452.576" stroke="#000" stroke-width="2.0" stroke-linecap="butt"/>
<line x1="1181.57" y1="1452.576" x2="1186.1699999999998" y2="1452.576" stroke="#000" stroke-width="2.8" stroke-linecap="round"/>
<rect x="1181.17" y="1464.85" width="5.40" height="67.75" fill="#ffffff" stroke="#000" stroke-width="2.5"/>
<line x1="1196.37" y1="1476.002" x2="1196.37" y2="1471.179" stroke="#000" stroke-width="2.0" stroke-linecap="butt"/>
<line x1="1194.07" y1="1471.179" x2="1198.6699999999998" y2="1471.179" stroke="#000" stroke-width="2.8" stroke-linecap="round"/>
<rect x="1193.67" y="1477.25" width="5.40" height="55.35" fill="#a0a0a0" stroke="#000" stroke-width="2.5"/>
<line x1="1208.87" y1="1484.959" x2="1208.87" y2="1480.136" stroke="#000" stroke-width="2.0" stroke-linecap="butt"/>
<line x1="1206.57" y1="1480.136" x2="1211.1699999999998" y2="1480.136" stroke="#000" stroke-width="2.8" stroke-linecap="round"/>
<rect x="1204.92" y="1484.96" width="7.90" height="47.64" fill="#000"/>
<line x1="1229.78" y1="1463.6" x2="1229.78" y2="1442.93" stroke="#000" stroke-width="2.0" stroke-linecap="butt"/>
<line x1="1227.48" y1="1442.93" x2="1232.08" y2="1442.93" stroke="#000" stroke-width="2.8" stroke-linecap="round"/>
<rect x="1227.08" y="1464.85" width="5.40" height="67.75" fill="#ffffff" stroke="#000" stroke-width="2.5"/>
<line x1="1242.28" y1="1483.581" x2="1242.28" y2="1469.112" stroke="#000" stroke-width="2.0" stroke-linecap="butt"/>
<line x1="1239.98" y1="1469.112" x2="1244.58" y2="1469.112" stroke="#000" stroke-width="2.8" stroke-linecap="round"/>
<rect x="1239.58" y="1484.83" width="5.40" height="47.77" fill="#a0a0a0" stroke="#000" stroke-width="2.5"/>
<line x1="1254.78" y1="1504.251" x2="1254.78" y2="1501.495" stroke="#000" stroke-width="2.0" stroke-linecap="butt"/>
<line x1="1252.48" y1="1501.495" x2="1257.08" y2="1501.495" stroke="#000" stroke-width="2.8" stroke-linecap="round"/>
<rect x="1250.83" y="1504.25" width="7.90" height="28.35" fill="#000"/>
<line x1="859.5" y1="1355.7" x2="875.0" y2="1355.7" stroke="#000" stroke-width="4.6" stroke-linecap="round"/>
<text x="870.25" y="1359.15" font-size="24.5" text-anchor="middle">***</text>
<line x1="860.4" y1="1276.4" x2="891.0" y2="1276.4" stroke="#000" stroke-width="4.6" stroke-linecap="round"/>
<text x="878.2" y="1280.25" font-size="24.5" text-anchor="middle">****</text>
<line x1="872.5" y1="1252.2" x2="892.5" y2="1252.2" stroke="#000" stroke-width="4.6" stroke-linecap="round"/>
<text x="882.7" y="1255.15" font-size="24.5" text-anchor="middle">**</text>
<line x1="996.5" y1="1366" x2="1011.8000000000001" y2="1366" stroke="#000" stroke-width="4.6" stroke-linecap="round"/>
<text x="1004" y="1368.95" font-size="24.5" text-anchor="middle">**</text>
<line x1="997.4" y1="1286.5" x2="1027.8" y2="1286.5" stroke="#000" stroke-width="4.6" stroke-linecap="round"/>
<text x="1014.65" y="1290.65" font-size="24.5" text-anchor="middle">****</text>
<line x1="1013.9" y1="1262.5" x2="1028.4" y2="1262.5" stroke="#000" stroke-width="4.6" stroke-linecap="round"/>
<text x="1020.9" y="1266.65" font-size="24.5" text-anchor="middle">***</text>
<line x1="1091.6" y1="1404.2" x2="1107.8" y2="1404.2" stroke="#000" stroke-width="4.6" stroke-linecap="round"/>
<text x="1099.55" y="1407.15" font-size="24.5" text-anchor="middle">**</text>
<line x1="1093.3999999999999" y1="1374.4" x2="1123.5" y2="1374.4" stroke="#000" stroke-width="4.6" stroke-linecap="round"/>
<text x="1106.7" y="1377.85" font-size="24.5" text-anchor="middle">*</text>
<rect x="1170.90" y="1240.40" width="29.00" height="15.10" fill="#fcfcfc" stroke="#000" stroke-width="3"/>
<rect x="1170.90" y="1279.00" width="29.00" height="15.40" fill="#a0a0a0" stroke="#000" stroke-width="3"/>
<rect x="1169.40" y="1316.10" width="32.00" height="18.10" fill="#000"/>
<text x="1216.2" y="1255.3" font-size="22.5" text-anchor="start">Control</text>
<text x="1216.8" y="1294.2" font-size="22.5" text-anchor="start">Torin1 (50 nM)</text>
<text x="1216.8" y="1333" font-size="22.5" text-anchor="start">Torin1 (200 nM)</text>
<text x="0" y="0" font-size="21" font-weight="bold" text-anchor="end" transform="translate(882.40 1544) rotate(-90) scale(1 1.06)">PPARGC1a</text>
<text x="0" y="0" font-size="21" font-weight="bold" text-anchor="end" transform="translate(928.31 1544) rotate(-90) scale(1 1.06)">CD36</text>
<text x="0" y="0" font-size="21" font-weight="bold" text-anchor="end" transform="translate(974.22 1544) rotate(-90) scale(1 1.06)">SLC27A1 (FATP1)</text>
<text x="0" y="0" font-size="21" font-weight="bold" text-anchor="end" transform="translate(1020.13 1544) rotate(-90) scale(1 1.06)">SLC27A6 (FATP6)</text>
<text x="0" y="0" font-size="21" font-weight="bold" text-anchor="end" transform="translate(1066.04 1544) rotate(-90) scale(1 1.06)">LPIN1</text>
<text x="0" y="0" font-size="21" font-weight="bold" text-anchor="end" transform="translate(1111.95 1544) rotate(-90) scale(1 1.06)">SLC2A1 (GLUT1)</text>
<text x="0" y="0" font-size="21" font-weight="bold" text-anchor="end" transform="translate(1157.86 1544) rotate(-90) scale(1 1.06)">SLC2A4 (GLUT4)</text>
<text x="0" y="0" font-size="21" font-weight="bold" text-anchor="end" transform="translate(1203.77 1544) rotate(-90) scale(1 1.06)">PFK</text>
<text x="0" y="0" font-size="21" font-weight="bold" text-anchor="end" transform="translate(1249.68 1544) rotate(-90) scale(1 1.06)">PYGM</text>
<line x1="854.1" y1="1733" x2="1073.3" y2="1733" stroke="#000" stroke-width="4.2" stroke-linecap="round"/>
<line x1="1085.7" y1="1733" x2="1267.7" y2="1733" stroke="#000" stroke-width="4.2" stroke-linecap="round"/>
<text x="956.9" y="1763.9" font-size="26.2" text-anchor="middle">Fatty acid</text>
<text x="957.2" y="1795.2" font-size="26.2" text-anchor="middle">metabolism</text>
<text x="1171.6" y="1764" font-size="26.2" text-anchor="middle">Glucose</text>
<text x="1171.3" y="1795.2" font-size="26.2" text-anchor="middle">metabolism</text>
<text x="0" y="0" font-size="22.5" font-weight="bold" text-anchor="middle" transform="translate(784.8 1395.2) rotate(-90) scale(1 1.06)">Relative mRNA expression</text>
<text x="0" y="0" font-size="22.1" font-weight="bold" text-anchor="middle" transform="translate(811.9 1394) rotate(-90) scale(1 1.06)">(normalized to TBP then control)</text>
</svg></body></html>
